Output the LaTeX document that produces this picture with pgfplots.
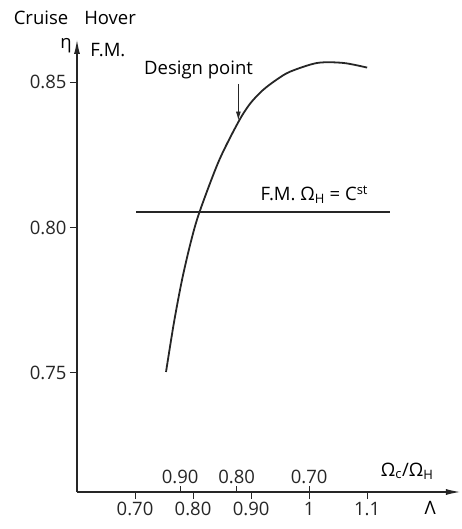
\documentclass[border=0pt]{standalone}
\usepackage{fontspec}
\setmainfont{Open Sans}
\usepackage{pgfplots}
\pgfplotsset{compat=1.18}
\usetikzlibrary{arrows.meta}
\newcommand\lab{\fontsize{18.5}{22}\selectfont}

\begin{document}
\begin{tikzpicture}
\path[use as bounding box] (-77pt,-37pt) rectangle (384pt,492pt);
\begin{axis}[
  scale only axis, width=383pt, height=452pt,
  xmin=0.6, xmax=1.26, ymin=0.709, ymax=0.8645,
  axis lines=left,
  axis line style={line width=1.1pt, draw=black!85, -{Latex[length=14pt,width=6pt]}},
  clip=false,
  xtick={0.7,0.8,0.9,1.0,1.1},
  xticklabels={0.70,0.80,0.90,1,1.1},
  ytick={0.75,0.80,0.85},
  yticklabels={0.75,0.80,0.85},
  tick align=outside,
  major tick length=7pt,
  tick style={line width=0.9pt, black!85},
  ticklabel style={font=\lab, text=black!85},
  extra x ticks={0.7778,0.875,1.0},
  extra x tick labels={0.90,0.80,0.70},
  extra x tick style={tick align=inside, major tick length=6pt,
    tick label style={anchor=south, yshift=5pt}},
]
% efficiency / figure of merit vs advance ratio
\addplot[line width=1.8pt, black!85, smooth] coordinates {
  (0.7534,0.7503) (0.767,0.7672) (0.781,0.7820) (0.796,0.7949)
  (0.8109,0.8052) (0.8445,0.8229) (0.8781,0.8363) (0.8983,0.8426)
  (0.920,0.8472) (0.9436,0.8508) (0.9672,0.8536) (1.014,0.8566)
  (1.059,0.8566) (1.100,0.8550)};
% F.M. at constant hover speed
\addplot[line width=1.3pt, black!85] coordinates {(0.7017,0.8053) (1.1397,0.8053)};

\node[font=\lab] at (axis cs:0.8095,0.8542) {Design point};
\draw[line width=0.9pt, black!85, -{Latex[length=9pt,width=5pt]}]
  (axis cs:0.8781,0.8494) -- (axis cs:0.8781,0.8368);
\node[font=\lab, anchor=west] at (axis cs:0.9103,0.8112)
  {F.M. Ω\textsubscript{H} = C\textsuperscript{st}};
\node[font=\lab] at (axis cs:1.169,0.7162) {Ω\textsubscript{c}/Ω\textsubscript{H}};
\node[font=\lab] at (axis cs:1.2086,0.7035) {Λ};
\node[font=\lab] at (axis cs:0.538,0.872) {Cruise};
\node[font=\lab] at (axis cs:0.657,0.872) {Hover};
\node[font=\lab] at (axis cs:0.581,0.8624) {η};
\node[font=\lab, anchor=west] at (axis cs:0.617,0.861) {F.M.};
\end{axis}
\end{tikzpicture}
\end{document}
